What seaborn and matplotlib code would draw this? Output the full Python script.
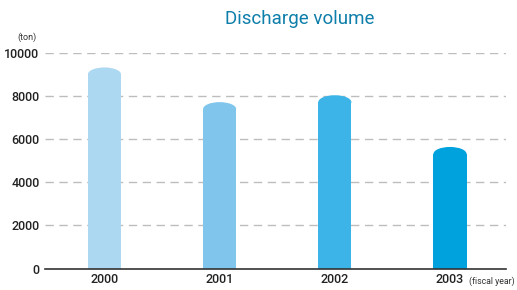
import matplotlib
matplotlib.use("Agg")
import matplotlib.pyplot as plt
from matplotlib.patches import Ellipse
import seaborn as sns
import pandas as pd

# Data
years = ["2000", "2001", "2002", "2003"]
discharge = [9330, 7720, 8040, 5640]
bar_colors = ["#acd8f2", "#7fc5ec", "#3cb4e7", "#00a2de"]
y_ticks = [0, 2000, 4000, 6000, 8000, 10000]

sns.set_theme(style="white")
plt.rcParams["font.family"] = ["Roboto", "DejaVu Sans"]

df = pd.DataFrame({"year": years, "volume": discharge})

fig = plt.figure(figsize=(5.17, 2.90), dpi=100)
ax = fig.add_axes([45 / 517, 21.5 / 290, 461 / 517, 215.5 / 290])

sns.barplot(data=df, x="year", y="volume", hue="year", palette=bar_colors,
            legend=False, width=0.287, ax=ax, saturation=1)

# rounded caps on top of the bars
cap = 320
for p, c in zip(ax.patches, bar_colors):
    x, w, h = p.get_x(), p.get_width(), p.get_height()
    p.set_height(h - cap)
    p.set_edgecolor("none")
    ax.add_patch(Ellipse((x + w / 2, h - cap), w, 2 * cap, facecolor=c,
                         edgecolor="none", zorder=p.get_zorder()))

ax.set_xlim(-0.516, 3.486)
ax.set_ylim(0, 10000)
ax.set_yticks(y_ticks)
ax.set_yticklabels([str(v) for v in y_ticks], fontsize=9, color="#222222",
                   fontweight="medium")
ax.set_xticklabels(years, fontsize=9, color="#222222", fontweight="medium")
ax.tick_params(axis="both", length=0, pad=4)
ax.tick_params(axis="x", pad=3)
ax.set_xlabel("")
ax.set_ylabel("")

for v in y_ticks[1:]:
    ax.axhline(v, color="#bdbdbd", lw=1, ls=(0, (6, 4)), zorder=0)

for s in ["top", "right", "left"]:
    ax.spines[s].set_visible(False)
ax.spines["bottom"].set_color("#333333")
ax.spines["bottom"].set_linewidth(1.2)

fig.text(300 / 517, 1 - 19 / 290, "Discharge volume", ha="center", va="center",
         fontsize=13.5, color="#0e7eaa")
fig.text(27 / 517, 1 - 37 / 290, "(ton)", ha="center", va="center",
         fontsize=6.5, color="#333333")
fig.text(469 / 517, 1 - 281 / 290, "(fiscal year)", ha="left", va="center",
         fontsize=6.3, color="#333333")

fig.savefig("out.png", dpi=100)
